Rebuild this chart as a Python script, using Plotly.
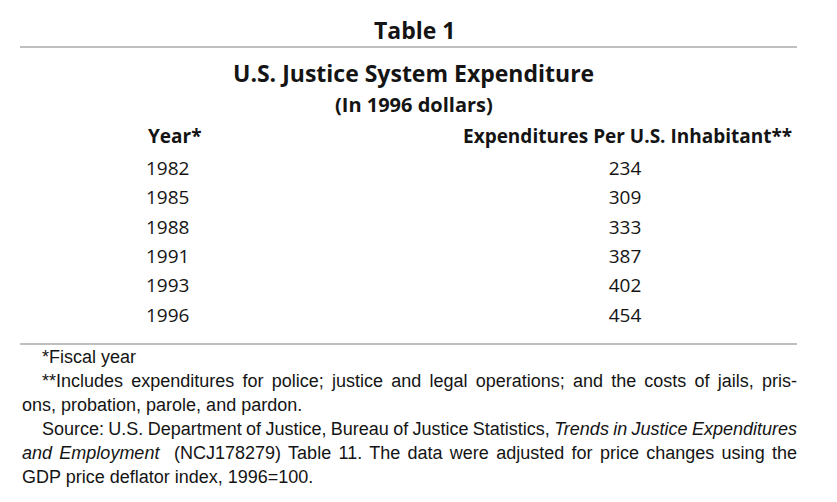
import plotly.graph_objects as go

# 표 데이터
years = ["1982", "1985", "1988", "1991", "1993", "1996"]
spending = ["234", "309", "333", "387", "402", "454"]
col_keys = ["year", "value"]
headers = ["Year*", "Expenditures Per U.S. Inhabitant**"]

table_no = "Table 1"
title = "U.S. Justice System Expenditure"
subtitle = "(In 1996 dollars)"
notes = [
    "*Fiscal year",
    "**Includes expenditures for police; justice and legal operations; and the costs of jails, pris-",
    "ons, probation, parole, and pardon.",
    "Source: U.S. Department of Justice, Bureau of Justice Statistics, <i>Trends in Justice Expenditures</i>",
    "<i>and Employment</i>  (NCJ178279) Table 11. The data were adjusted for price changes using the",
    "GDP price deflator index, 1996=100.",
]
note_indent = [True, True, False, True, False, False]
note_justify = [False, True, False, True, True, False]

W, H = 837, 502
body_font = "Open Sans, Liberation Sans, sans-serif"
note_font = "Liberation Sans Narrow, Liberation Sans, sans-serif"
ink = "rgb(20, 20, 20)"

fig = go.Figure()
fig.add_trace(
    go.Scatter(
        x=[col_keys[0]] * len(years),
        y=years,
        mode="text",
        text=years,
        textposition="middle right",
        textfont=dict(family=body_font, size=19, color=ink),
        hoverinfo="skip",
    )
)
fig.add_trace(
    go.Scatter(
        x=[col_keys[1]] * len(years),
        y=years,
        mode="text",
        text=spending,
        textposition="middle center",
        textfont=dict(family=body_font, size=19, color=ink),
        hoverinfo="skip",
    )
)

# 행 간격 약 29.4px, 1996 행이 위에서 317px
row_px = 29.4
r0 = -(H - 317) / row_px
fig.update_yaxes(
    type="category",
    categoryorder="array",
    categoryarray=years[::-1],
    range=[r0, r0 + H / row_px],
    visible=False,
    fixedrange=True,
)
# 열: year 열 146px, value 열 중심 625px
col_px = 625 - 146
c0 = -146 / col_px
fig.update_xaxes(
    type="category",
    categoryorder="array",
    categoryarray=col_keys,
    range=[c0, c0 + W / col_px],
    visible=False,
    fixedrange=True,
)


def px(x, y):
    return x / W, 1 - y / H


anns = []
x, y = px(W / 2 - 4, 30)
anns.append(dict(x=x, y=y, text="<b>%s</b>" % table_no, xanchor="center", font=dict(family=body_font, size=23, color=ink)))
x, y = px(W / 2 - 5, 73)
anns.append(dict(x=x, y=y, text="<b>%s</b>" % title, xanchor="center", font=dict(family=body_font, size=23, color=ink)))
x, y = px(W / 2 - 5, 104)
anns.append(dict(x=x, y=y, text="<b>%s</b>" % subtitle, xanchor="center", font=dict(family=body_font, size=20, color=ink)))
x, y = px(146, 136)
anns.append(dict(x=x, y=y, text="<b>%s</b>" % headers[0], xanchor="left", font=dict(family=body_font, size=19, color=ink)))
x, y = px(794, 136)
anns.append(dict(x=x, y=y, text="<b>%s</b>" % headers[1], xanchor="right", font=dict(family=body_font, size=19, color=ink)))
note_start = len(anns)
for i, line in enumerate(notes):
    x, y = px(40 if note_indent[i] else 20, 357 + 24 * i)
    anns.append(dict(x=x, y=y, text=line, xanchor="left", font=dict(family=note_font, size=18, color=ink)))
for a in anns:
    a.update(xref="paper", yref="paper", yanchor="middle", showarrow=False)

line_style = dict(color="rgb(170, 170, 170)", width=1.5)
fig.update_layout(
    width=W,
    height=H,
    margin=dict(l=0, r=0, t=0, b=0),
    paper_bgcolor="white",
    plot_bgcolor="white",
    showlegend=False,
    annotations=anns,
    shapes=[
        dict(type="line", xref="paper", yref="paper", x0=20 / W, x1=797 / W, y0=1 - 47 / H, y1=1 - 47 / H, line=line_style),
        dict(type="line", xref="paper", yref="paper", x0=20 / W, x1=797 / W, y0=1 - 344 / H, y1=1 - 344 / H, line=line_style),
    ],
)

# 각주 양쪽 정렬: 단어 간격을 늘려 오른쪽 끝을 797px에 맞춤
just_idx = [note_start + i for i, j in enumerate(note_justify) if j]
post_js = """
document.body.style.margin = '0';
var gd = document.getElementById('{plot_id}');
var just = %s;
gd.querySelectorAll('g.annotation').forEach(function (g) {
  var i = +g.getAttribute('data-index');
  if (just.indexOf(i) < 0) return;
  var t = g.querySelector('text.annotation-text');
  if (!t) return;
  var r0 = t.getBoundingClientRect();
  var n = (t.textContent.match(/ /g) || []).length;
  if (!n) return;
  var extra = (797 - r0.right) / n;
  t.style.wordSpacing = extra + 'px';
  var r1 = t.getBoundingClientRect();
  t.setAttribute('transform', 'translate(' + (r0.left - r1.left) + ',0)');
});
""" % just_idx
fig.write_html("out.html", post_script=post_js, config={"displayModeBar": False})
